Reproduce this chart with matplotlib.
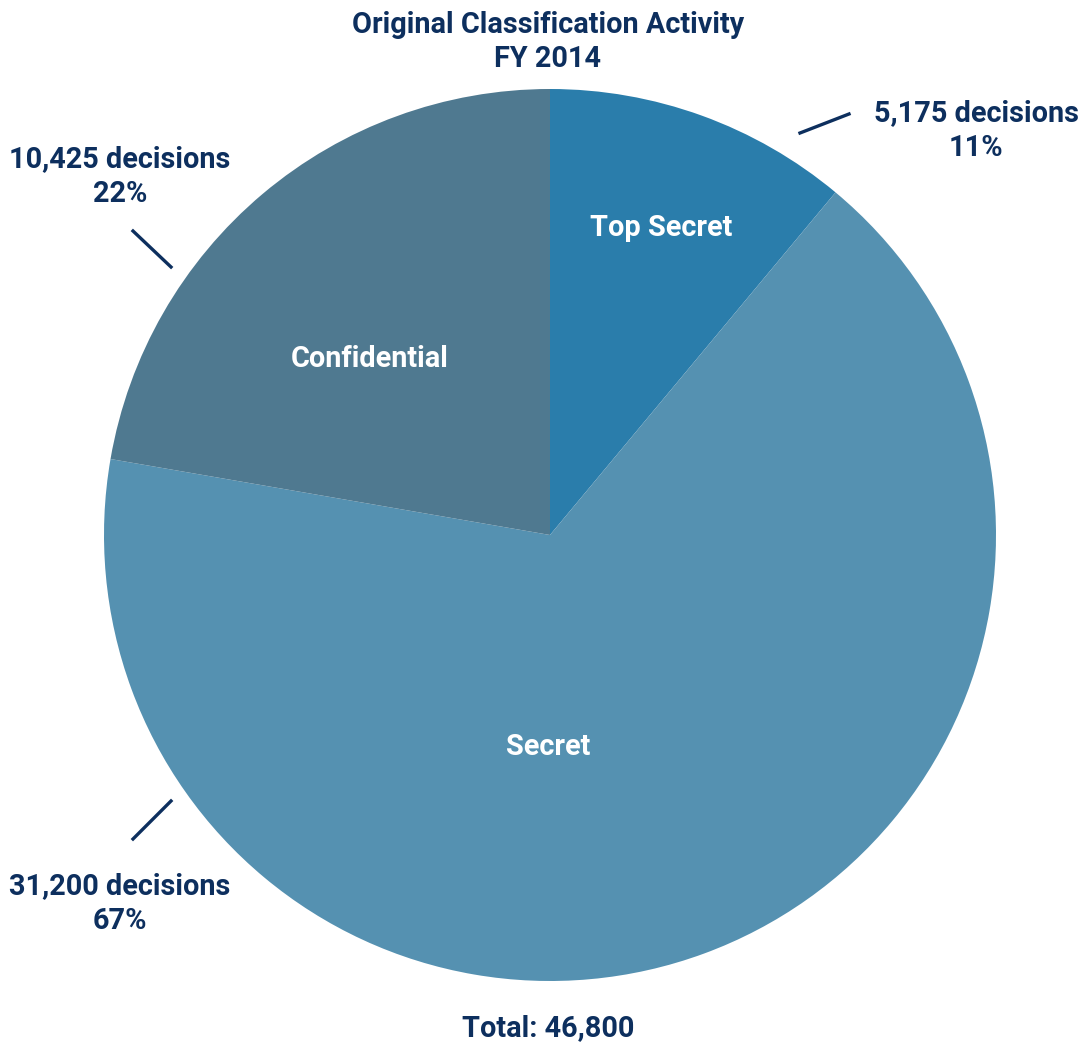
import matplotlib.pyplot as plt

# data
categories = ["Top Secret", "Secret", "Confidential"]
decisions = [5175, 31200, 10425]
percents = ["11%", "67%", "22%"]
colors = ["#2a7dab", "#5591b1", "#4f7990"]
total = 46800

W, H = 1082, 1042
navy = "#0d2f5e"
plt.rcParams['font.family'] = ['Roboto', 'DejaVu Sans']

fig = plt.figure(figsize=(W / 100, H / 100), dpi=100)
ax = fig.add_axes([0, 0, 1, 1])

# pie drawn in pixel-like coordinates (y measured from bottom)
cx, cy, r = 550, H - 535, 446
ax.pie(decisions, colors=colors, startangle=90, counterclock=False,
       center=(cx, cy), radius=r, frame=True,
       wedgeprops=dict(linewidth=0))
ax.set_xlim(0, W)
ax.set_ylim(0, H)
ax.axis('off')

def py(y):
    return H - y

txt = dict(fontsize=20.8, fontweight='bold', ha='center', va='center')

# title
ax.text(548, py(25), "Original Classification Activity", color=navy, **txt)
ax.text(548, py(59), "FY 2014", color=navy, **txt)

# labels inside wedges
inner_pos = [(661, 228), (548, 747), (370, 359)]
for name, (x, y) in zip(categories, inner_pos):
    ax.text(x, py(y), name, color='white', **txt)

# outside labels with leader lines
outer_pos = [(976, 113), (120, 886), (120, 159)]
leaders = [((800, 133), (849, 114)), ((133, 839), (171, 801)), ((133, 231), (171, 267))]
for val, pct, (x, y), ((x0, y0), (x1, y1)) in zip(decisions, percents, outer_pos, leaders):
    ax.text(x, py(y), f"{val:,} decisions", color=navy, **txt)
    ax.text(x, py(y + 35), pct, color=navy, **txt)
    ax.plot([x0, x1], [py(y0), py(y1)], color=navy, lw=2.4)

ax.text(548, py(1028), f"Total: {total:,}", color=navy, **txt)

fig.savefig("out.png", dpi=100)
